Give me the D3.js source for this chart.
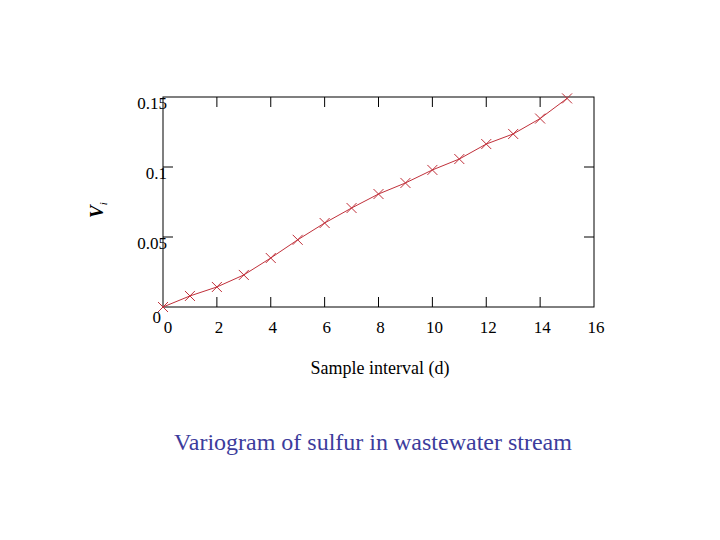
<!DOCTYPE html>
<html><head><meta charset="utf-8">
<script src="https://cdn.jsdelivr.net/npm/d3@7"></script>
<style>body{margin:0;background:#fff}svg{display:block}text{font-family:"Liberation Serif","Times New Roman",serif}</style>
</head><body><svg id="c" width="720" height="540"></svg>
<script>
const lags = [0,1,2,3,4,5,6,7,8,9,10,11,12,13,14,15];
const variogram = [0,0.0079,0.0143,0.0229,0.035,0.048,0.060,0.0707,0.0807,0.0886,0.0979,0.1057,0.1164,0.1236,0.1346,0.149];
const xTicks = [0,2,4,6,8,10,12,14,16];
const yTicks = [0,0.05,0.1,0.15];
const yTickLabels = ["0","0.05","0.1","0.15"];

const svg = d3.select("#c");
const L=163,R=594,T=97,B=307;
const x = d3.scaleLinear().domain([0,16]).range([L,R]);
const y = d3.scaleLinear().domain([0,0.15]).range([B,T]);
const g = svg.append("g");
g.append("rect").attr("x",L).attr("y",T).attr("width",R-L).attr("height",B-T).attr("fill","none").attr("stroke","#000").attr("stroke-width",1);
const tl=10;
xTicks.slice(1,-1).forEach(t=>{
  g.append("line").attr("x1",x(t)).attr("x2",x(t)).attr("y1",B).attr("y2",B-tl).attr("stroke","#000");
  g.append("line").attr("x1",x(t)).attr("x2",x(t)).attr("y1",T).attr("y2",T+tl).attr("stroke","#000");
});
yTicks.slice(1,-1).forEach(t=>{
  g.append("line").attr("y1",y(t)).attr("y2",y(t)).attr("x1",L).attr("x2",L+tl).attr("stroke","#000");
  g.append("line").attr("y1",y(t)).attr("y2",y(t)).attr("x1",R).attr("x2",R-tl).attr("stroke","#000");
});
xTicks.forEach(t=>{
  g.append("text").attr("x",x(t)+(t===0?5:2)).attr("y",B+26).attr("text-anchor","middle").attr("font-size",17).text(t);
});
yTicks.forEach((t,i)=>{
  g.append("text").attr("x",t===0?L-2:L+4).attr("y",y(t)+(t===0?16:12)).attr("text-anchor","end").attr("font-size",17).text(yTickLabels[i]);
});
const line=d3.line().x((d,i)=>x(lags[i])).y(d=>y(d));
g.append("path").datum(variogram).attr("d",line).attr("fill","none").attr("stroke","#c0303a").attr("stroke-width",1);
const s=5;
variogram.forEach((v,i)=>{
  const cx=x(lags[i]),cy=y(v);
  g.append("path").attr("d",`M${cx-s},${cy-s}L${cx+s},${cy+s}M${cx-s},${cy+s}L${cx+s},${cy-s}`).attr("stroke","#c0303a").attr("stroke-width",1);
});
const yl=svg.append("text").attr("transform","translate(103,210) rotate(-90)").attr("text-anchor","middle").attr("font-size",19).attr("font-weight","bold").attr("font-style","italic");
yl.append("tspan").text("V");
yl.append("tspan").attr("font-size",11).attr("font-weight","normal").attr("dy",4).text("i");
svg.append("text").attr("x",380).attr("y",374).attr("text-anchor","middle").attr("font-size",18).text("Sample interval (d)");
svg.append("text").attr("x",373).attr("y",450).attr("text-anchor","middle").attr("font-size",24).attr("fill","#3c3c9c").text("Variogram of sulfur in wastewater stream");
</script></body></html>
